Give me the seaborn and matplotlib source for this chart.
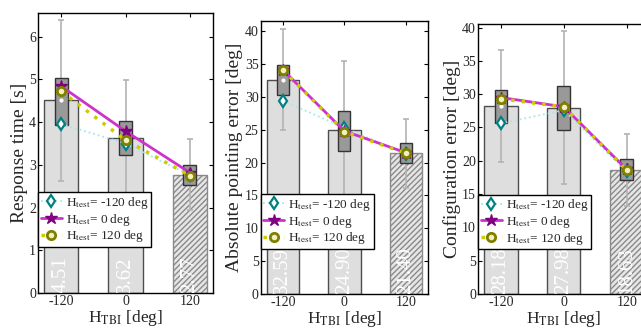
import numpy as np
import seaborn as sns
import matplotlib
matplotlib.use("Agg")
import matplotlib.pyplot as plt

# categories (H_TBI)
cats = ['-120', '0', '120']

# Response time [s]
rt_mean = [4.51, 3.62, 2.77]
rt_err = [1.88, 1.37, 0.83]
rt_box_lo = [3.94, 3.23, 2.52]
rt_box_hi = [5.03, 4.02, 3.00]
rt_m120 = [3.96, 3.50, 2.76]
rt_0 = [4.84, 3.79, 2.82]
rt_p120 = [4.72, 3.58, 2.75]

# Absolute pointing error [deg]
ape_mean = [32.59, 24.90, 21.40]
ape_err = [7.7, 10.5, 5.3]
ape_box_lo = [30.3, 21.8, 19.9]
ape_box_hi = [34.8, 27.9, 22.9]
ape_m120 = [29.4, 25.3, 21.3]
ape_0 = [34.1, 24.8, 21.5]
ape_p120 = [34.1, 24.7, 21.4]

# Configuration error [deg]
cfg_mean = [28.18, 27.98, 18.63]
cfg_err = [8.4, 11.5, 5.4]
cfg_box_lo = [25.7, 24.6, 17.1]
cfg_box_hi = [30.6, 31.3, 20.2]
cfg_m120 = [25.6, 27.6, 18.4]
cfg_0 = [29.5, 28.1, 18.7]
cfg_p120 = [29.3, 28.1, 18.6]

sns.set_style("ticks")
plt.rcParams['font.family'] = 'serif'
plt.rcParams['font.serif'] = ['Liberation Serif', 'DejaVu Serif']
plt.rcParams['mathtext.fontset'] = 'stix'

fig = plt.figure(figsize=(6.41, 3.28), dpi=100)

panels = [
    dict(rect=[0.0593, 0.106, 0.273, 0.854], ylim=6.55, yticks=np.arange(0, 7, 1),
         ylabel="Response time [s]", mean=rt_mean, err=rt_err, lo=rt_box_lo, hi=rt_box_hi,
         m120=rt_m120, z=rt_0, p120=rt_p120),
    dict(rect=[0.4067, 0.104, 0.261, 0.833], ylim=41.6, yticks=np.arange(0, 41, 5),
         ylabel="Absolute pointing error [deg]", mean=ape_mean, err=ape_err, lo=ape_box_lo,
         hi=ape_box_hi, m120=ape_m120, z=ape_0, p120=ape_p120),
    dict(rect=[0.746, 0.104, 0.267, 0.824], ylim=40.6, yticks=np.arange(0, 41, 5),
         ylabel="Configuration error [deg]", mean=cfg_mean, err=cfg_err, lo=cfg_box_lo,
         hi=cfg_box_hi, m120=cfg_m120, z=cfg_0, p120=cfg_p120),
]

labels = [r"H$_{\rm test}$= -120 deg", r"H$_{\rm test}$= 0 deg", r"H$_{\rm test}$= 120 deg"]

for p in panels:
    ax = fig.add_axes(p['rect'])
    sns.barplot(x=cats, y=p['mean'], order=cats, ax=ax, color='#dedede', saturation=1,
                width=0.53, edgecolor='#4d4d4d', linewidth=1, errorbar=None, zorder=1)
    last = ax.patches[2]
    last.set_hatch('//////')
    last.set_edgecolor('#8a8a8a')
    last.set_facecolor('#e6e6e6')

    xs = np.arange(len(cats))
    ax.errorbar(xs, p['mean'], yerr=p['err'], fmt='none', ecolor='#b3b3b3',
                elinewidth=1.2, capsize=2.5, capthick=1.2, zorder=2)
    ax.bar(xs, np.array(p['hi']) - np.array(p['lo']), bottom=p['lo'], width=0.2,
           color='#999999', edgecolor='#333333', linewidth=1, zorder=3)
    ax.plot(xs, p['mean'], 'o', ms=2, color='white', zorder=4)

    for xi, v in zip(xs, p['mean']):
        ax.text(xi, 0, "{:.2f}".format(v), rotation=90, ha='center', va='bottom',
                color='white', fontsize=15, zorder=3, clip_on=True)

    ax.plot(xs, p['m120'], linestyle=':', color='#a6e8e8', lw=1.3, marker='d', ms=6,
            mfc='white', mec='#008080', mew=1.6, zorder=5, label=labels[0])
    ax.plot(xs, p['z'], linestyle='-', color='#cc33cc', lw=2, marker='*', ms=9,
            mfc='#800080', mec='#800080', zorder=6, label=labels[1])
    ax.plot(xs, p['p120'], linestyle=(0, (1, 2)), color='#cccc00', lw=2.5, marker='o', ms=6,
            mfc='#f0f0c0', mec='#808000', mew=2, zorder=7, label=labels[2])

    ax.set_xlim(-0.36, 2.36)
    ax.set_ylim(0, p['ylim'])
    ax.set_yticks(p['yticks'])
    ax.set_ylabel(p['ylabel'], fontsize=14, labelpad=1)
    ax.set_xlabel(r"H$_{\rm TBI}$ [deg]", fontsize=12.5, labelpad=0)
    ax.tick_params(direction='in', top=True, right=True, length=3, labelsize=10,
                   pad=1.5, color='black')
    for s in ax.spines.values():
        s.set_visible(True)
        s.set_color('black')
        s.set_linewidth(1)

    leg = ax.legend(loc='lower left', bbox_to_anchor=(0, 0.165), borderaxespad=0,
                    fontsize=9.5, handlelength=1.6, handletextpad=0.3, labelspacing=0.05,
                    borderpad=0.2, fancybox=False, framealpha=1, edgecolor='black')
    leg.get_frame().set_linewidth(1)
    leg.set_zorder(10)

fig.savefig("out.png", dpi=100)
